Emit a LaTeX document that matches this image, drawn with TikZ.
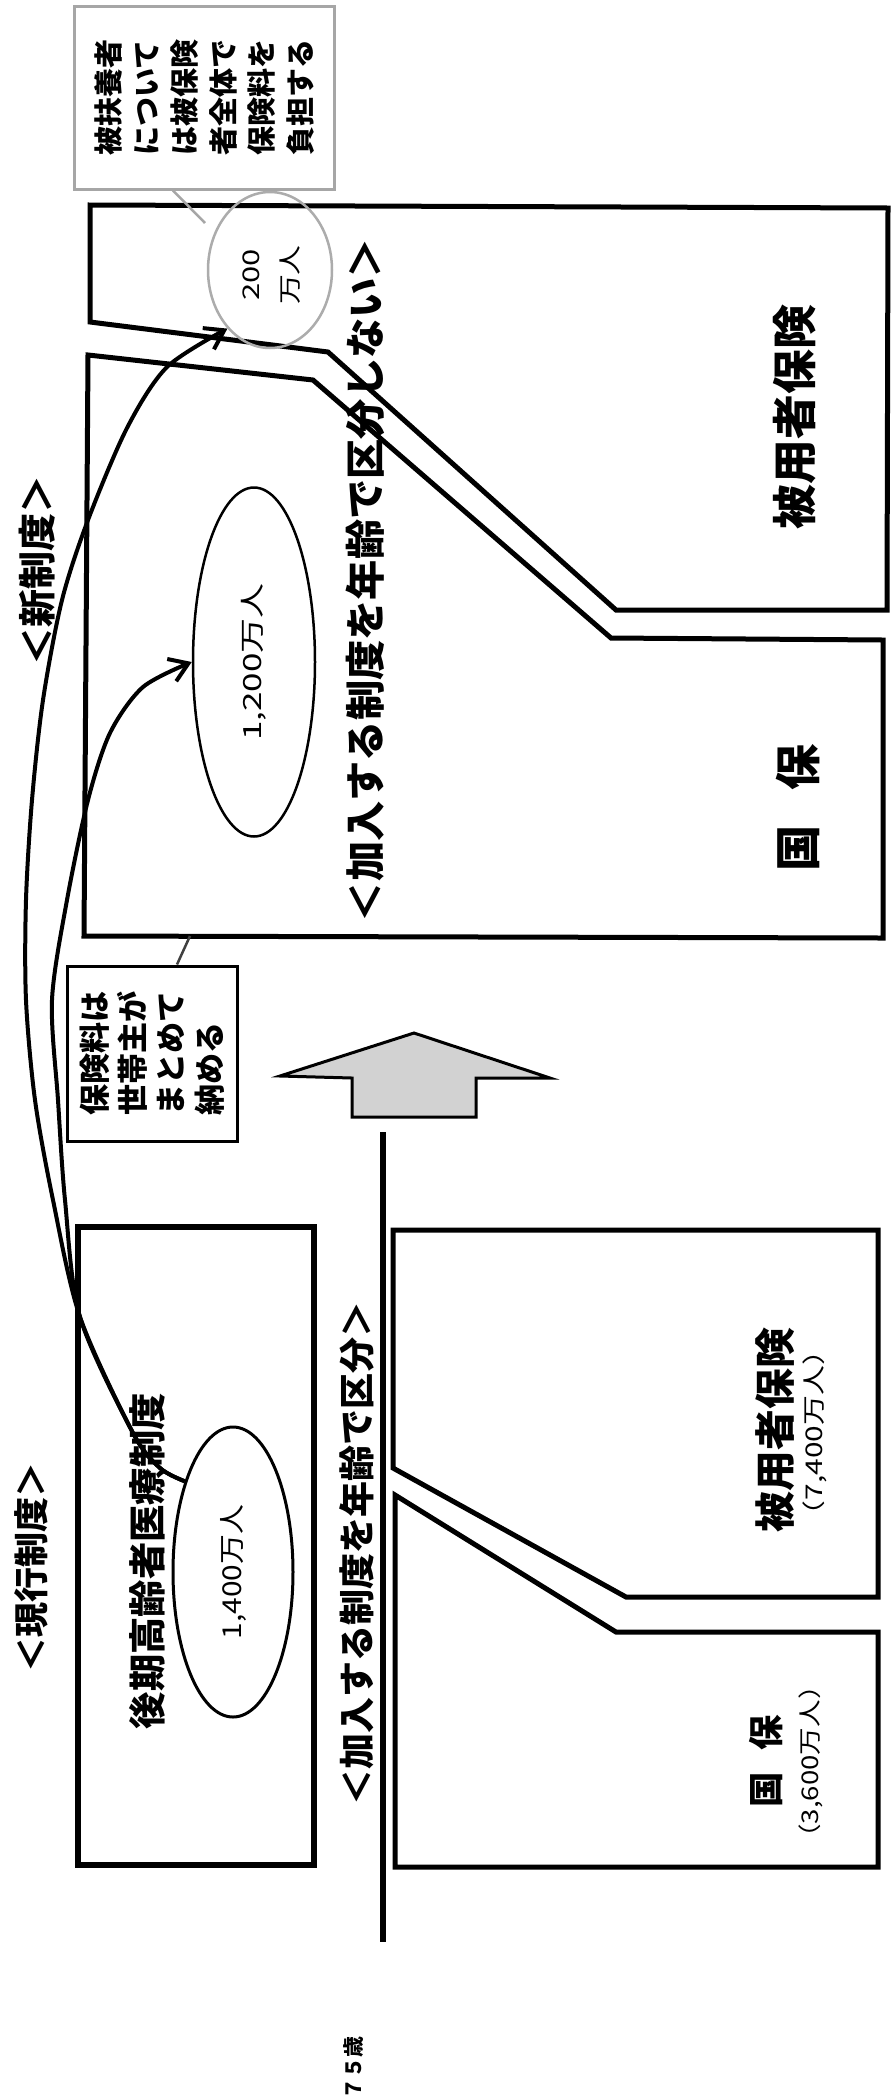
\documentclass[tikz,border=0pt]{standalone}
\usepackage{fontspec}
\setmainfont{Noto Sans CJK JP}
\usetikzlibrary{shapes.geometric,arrows.meta,calc}
\newcommand{\fsz}[2][0]{\fontsize{#2}{#2}\selectfont}
\newcommand{\fitlen}[2]{\resizebox{#1}{!}{#2}}
\begin{document}
\begin{tikzpicture}[x=1pt,y=-1pt,
  region/.style={draw=black, line width=5pt, line join=miter},
  lbl/.style={rotate=90, inner sep=0pt, font=\bfseries\fsz{36}},
  ell/.style={ellipse, draw, inner sep=0pt},
  curvearrow/.style={line width=4pt, -{Straight Barb[length=18pt,width=24pt]}},
  callout/.style={rotate=90, draw, align=left, inner sep=0pt, line width=3pt},
  ptr/.style={line width=2.5pt}
]
\fill[white] (0,0) rectangle (896,2099);
\useasboundingbox (0,0) rectangle (896,2099);

% ---- new system regions ----
\draw[region] (90,205) -- (888,208) -- (887,610) -- (616,610) -- (328,352) -- (90,322) -- cycle;
\draw[region] (88,355) -- (313,380) -- (611,638) -- (883,640) -- (883,938) -- (84,936) -- cycle;

% ---- current system regions ----
\draw[region, line width=6pt] (78,1227) rectangle (314,1865);
\draw[region] (393,1230) -- (878,1230) -- (878,1597) -- (626,1597) -- (393,1468) -- cycle;
\draw[region] (395,1495) -- (616,1632) -- (878,1632) -- (878,1867) -- (395,1867) -- cycle;

% ---- age line ----
\coordinate (ageTop) at (383,1132);
\coordinate (ageBot) at (383,1942);
\draw[line width=6pt] (ageTop) -- (ageBot);

% ---- block arrow ----
\draw[line width=3pt, fill=gray!35, line join=miter] (414,1033) -- (550,1078) -- (476,1078) -- (476,1117) -- (352,1117) -- (352,1078) -- (280,1076) -- cycle;

% ---- ellipses ----
\node[ell, line width=3pt, minimum width=120pt, minimum height=290pt] (e1400) at (233,1572) {\rotatebox{90}{\scalebox{1.15}[1]{\fsz{26}1,400万人}}};
\node[ell, line width=2.5pt, minimum width=122pt, minimum height=349pt] (e1200) at (254,662) {\rotatebox{90}{\scalebox{1.4}[1]{\fsz{25}1,200万人}}};
\node[ell, draw=gray!65, line width=2.5pt, minimum width=124pt, minimum height=156pt] (e200) at (270,270) {};
\node[lbl, align=center, font=\fontsize{23}{39}\selectfont] (t200) at (272,275) {\scalebox{1.35}[1]{200}\\\scalebox{1.3}[1]{万人}};

% ---- callouts ----
\node[callout, draw=gray!70, minimum width=183pt, minimum height=260pt, font=\bfseries\fontsize{29}{38.4}\selectfont] (cb1) at (204,97.5) {被扶養者\\について\\は被保険\\者全体で\\保険料を\\負担する};
\node[callout, draw=black, minimum width=175pt, minimum height=170pt, font=\bfseries\fontsize{31}{38.3}\selectfont] (cb2) at (152,1053.5) {保険料は\\世帯主が\\まとめて\\納める};
\coordinate (t1) at (205,223);
\coordinate (t2) at (190,936);
\draw[ptr, gray!70] ($(cb1.west)+(-31,0)$) -- (t1);
\draw[ptr, black!75] ($(cb2.east)+(25,0)$) -- (t2);

% ---- curved arrows ----
\draw[curvearrow] plot[smooth, tension=0.5] coordinates {(e1400.118) (160,1468) (133,1433) (80,1317) (53,1200) (35,1100) (26,1000) (26,900) (32,800) (43,700) (62,600) (88,520) (127,428) (167,367) (e200.234)};
\draw[curvearrow] plot[smooth, tension=0.5] coordinates {(e1400.118) (160,1468) (133,1433) (80,1317) (65,1200) (58,1100) (52,1000) (67,900) (88,800) (110,733) (143,687) (e1200.west)};

% ---- labels ----
\node[lbl] (tnew) at (37,570) {\fitlen{190pt}{＜新制度＞}};
\node[lbl] (told) at (31,1567) {\fitlen{210pt}{＜現行制度＞}};
\node[lbl] (tnot) at (365,580) {\fitlen{684pt}{＜加入する制度を年齢で区分しない＞}};
\node[lbl] (tby) at (357,1553) {\fitlen{504pt}{＜加入する制度を年齢で区分＞}};
\node[lbl] (hy1) at (795,417) {\fitlen{224pt}{被用者保険}};
\node[lbl] (kk1) at (798,808) {\fitlen{127pt}{国\hspace{0.75em}保}};
\node[lbl] (hy0) at (775,1430) {\fitlen{204pt}{被用者保険}};
\node[lbl, font=\fsz{23}] (hy0n) at (815,1433) {\scalebox{1.3}[1]{（7,400万人）}};
\node[lbl] (kk0) at (766,1761) {\fitlen{92pt}{国\hspace{0.6em}保}};
\node[lbl, font=\fsz{23}] (kk0n) at (811,1762) {\scalebox{1.2}[1]{（3,600万人）}};
\node[lbl] (koki) at (147,1561) {\fitlen{336pt}{後期高齢者医療制度}};
\node[lbl, font=\bfseries\fsz{21}] (age) at (354,2068) {７５歳};
\end{tikzpicture}
\end{document}
